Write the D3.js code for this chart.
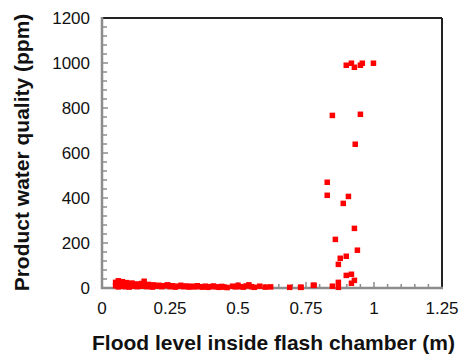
<!DOCTYPE html>
<html><head><meta charset="utf-8">
<script src="https://cdn.jsdelivr.net/npm/d3@7"></script>
<style>body{margin:0;background:#fff}svg{display:block}text{font-family:"Liberation Sans",Arial,sans-serif}</style>
</head><body><div id="c"></div>
<script>
// Flood level (m) and product water quality (ppm)
const floodLevel = [
0.05,0.05,0.055,0.06,0.06,0.065,0.07,0.07,0.075,0.08,0.08,0.085,0.09,0.09,0.095,0.10,0.10,0.105,0.11,0.115,
0.12,0.125,0.13,0.135,0.14,0.145,0.15,0.155,0.16,0.165,0.17,0.18,0.185,0.19,0.20,0.21,0.22,0.23,0.24,0.25,
0.26,0.27,0.28,0.29,0.30,0.31,0.32,0.33,0.34,0.35,0.36,0.37,0.38,0.39,0.40,0.41,0.42,0.43,0.44,0.45,
0.46,0.48,0.49,0.50,0.51,0.52,0.53,0.54,0.55,0.56,0.58,0.60,0.62,0.69,0.73,0.78,
0.898,0.917,0.928,0.950,0.957,0.998,0.847,0.950,0.931,0.828,0.828,0.906,0.887,0.928,0.858,0.939,
0.876,0.898,0.869,0.898,0.917,0.928,0.917,0.869,0.869,0.847,0.777,0.732];
const waterQuality = [
10,25,18,32,5,14,22,8,28,12,20,6,16,24,10,18,4,14,22,8,
12,18,6,14,10,20,8,30,12,6,16,10,4,14,8,12,6,10,14,6,
10,4,8,12,6,9,4,8,5,10,6,4,8,3,6,9,5,3,7,4,
2,8,5,12,6,4,9,14,6,3,8,4,5,3,3,12,
990,999,981,990,999,999,767,772,639,470,412,407,376,265,216,168,
132,141,105,56,61,34,21,25,3,8,12,3];
const xTicks = [0,0.25,0.5,0.75,1,1.25];
const xTickLabels = ["0","0.25","0.5","0.75","1","1.25"];
const yTicks = [0,200,400,600,800,1000,1200];
const xTitle = "Flood level inside flash chamber (m)";
const yTitle = "Product water quality (ppm)";

const W=460,H=355, L=102,R=442,T=18,B=288;
const svg=d3.select("#c").append("svg").attr("width",W).attr("height",H);
const x=d3.scaleLinear().domain([0,1.25]).range([L,R]);
const y=d3.scaleLinear().domain([0,1200]).range([B,T]);
const gray="#8c8c8c";

// minor ticks
const xMinor=d3.range(0,1.2501,0.05), yMinor=d3.range(0,1201,40);
svg.append("g").selectAll("line").data(xMinor).join("line")
 .attr("x1",d=>x(d)).attr("x2",d=>x(d)).attr("y1",B).attr("y2",d=>Math.abs(d*4-Math.round(d*4))<1e-6?B-6:B-4)
 .attr("stroke",gray).attr("stroke-width",1.5);
svg.append("g").selectAll("line").data(yMinor).join("line")
 .attr("y1",d=>y(d)).attr("y2",d=>y(d)).attr("x1",L).attr("x2",d=>d%200===0?L+6:L+5)
 .attr("stroke",gray).attr("stroke-width",1.5);

// frame
svg.append("line").attr("x1",L).attr("x2",R).attr("y1",T).attr("y2",T).attr("stroke","#222").attr("stroke-width",2);
svg.append("line").attr("x1",R).attr("x2",R).attr("y1",T).attr("y2",B).attr("stroke","#222").attr("stroke-width",2);
svg.append("line").attr("x1",L).attr("x2",L).attr("y1",T-1).attr("y2",B+1).attr("stroke",gray).attr("stroke-width",2.5);
svg.append("line").attr("x1",L-1).attr("x2",R+1).attr("y1",B).attr("y2",B).attr("stroke",gray).attr("stroke-width",2.5);

// tick labels
svg.append("g").selectAll("text").data(xTicks).join("text")
 .attr("x",d=>x(d)).attr("y",314).attr("text-anchor","middle").attr("font-size",17).attr("fill","#111")
 .text((d,i)=>xTickLabels[i]);
svg.append("g").selectAll("text").data(yTicks).join("text")
 .attr("x",90).attr("y",d=>y(d)+6).attr("text-anchor","end").attr("font-size",17).attr("fill","#111")
 .text(d=>d);

// titles
svg.append("text").attr("x",273.5).attr("y",350).attr("text-anchor","middle").attr("font-size",21)
 .attr("font-weight","bold").attr("fill","#111").text(xTitle);
svg.append("text").attr("transform","translate(29,152.5) rotate(-90)").attr("text-anchor","middle").attr("font-size",21)
 .attr("font-weight","bold").attr("fill","#111").text(yTitle);

// points
const s=5.5;
svg.append("g").selectAll("rect").data(floodLevel.map((v,i)=>[v,waterQuality[i]])).join("rect")
 .attr("x",d=>x(d[0])-s/2).attr("y",d=>y(d[1])-s/2).attr("width",s).attr("height",s).attr("fill","#ff0000");
</script></body></html>
